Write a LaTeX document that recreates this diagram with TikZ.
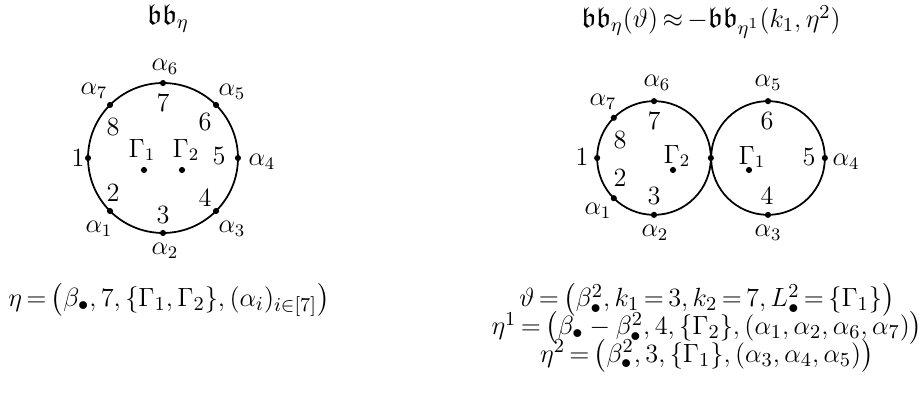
\documentclass[tikz,border=0pt]{standalone}
\usepackage{amsmath,amssymb}
\usetikzlibrary{positioning}
\newcommand\tightrel{\thickmuskip=3mu plus 1mu\relax}
\newcommand\tightlines{\lineskiplimit=-\maxdimen\relax}
\newcommand\formulasize{\fontsize{12.5}{12.6}\selectfont}
\newcommand\titlesize{\fontsize{13.2}{15}\selectfont}

\begin{document}
\begin{tikzpicture}[
  x=0.016cm, y=-0.016cm,
  ring/.style={
    draw,
    circle,
    line width=0.8pt,
    inner sep=0pt,
    outer sep=0pt,
  },
  vtx/.style={
    circle,
    fill=black,
    inner sep=0pt,
    minimum size=2.8pt,
  },
  lbl/.style={
    font=\large,
    inner sep=0pt,
  },
  titlelbl/.style={
    font=\titlesize\tightrel,
    inner sep=0pt,
  },
  formula/.style={
    font=\formulasize\tightrel\tightlines,
    align=center,
    inner sep=0pt,
  },
]

\useasboundingbox (0,0) rectangle (921,394);

% =============================================================================
% Left: one boundary circle
% =============================================================================
\node[titlelbl] (titleL) at (168,18) {$\mathfrak{bb}_\eta$};

\node[ring, minimum size=2.4cm] (ringL) at (163,158) {};

\node[vtx] (L1) at (ringL.180) {};
\node[vtx] (La1) at (ringL.225) {};
\node[vtx] (La2) at (ringL.270) {};
\node[vtx] (La3) at (ringL.315) {};
\node[vtx] (La4) at (ringL.0) {};
\node[vtx] (La5) at (ringL.45) {};
\node[vtx] (La6) at (ringL.90) {};
\node[vtx] (La7) at (ringL.135) {};

\node[lbl] at (78,158) {$1$};
\node[lbl] at (99,229) {$\alpha_1$};
\node[lbl] at (165,251) {$\alpha_2$};
\node[lbl] at (232,229) {$\alpha_3$};
\node[lbl] at (262,162) {$\alpha_4$};
\node[lbl] at (232,92) {$\alpha_5$};
\node[lbl] at (165,67) {$\alpha_6$};
\node[lbl] at (94,91) {$\alpha_7$};

% numbers inside
\node[lbl] at (113,193) {$2$};
\node[lbl] at (163,215) {$3$};
\node[lbl] at (205,198) {$4$};
\node[lbl] at (219,156) {$5$};
\node[lbl] at (205,122) {$6$};
\node[lbl] at (163,103) {$7$};
\node[lbl] at (113,127) {$8$};

% punctures
\node[vtx] (LG1) at (144,170) {};
\node[vtx] (LG2) at (182,170) {};
\node[lbl] at (142,150) {$\Gamma_1$};
\node[lbl] at (186,150) {$\Gamma_2$};

\node[formula] (etaL) at (169,300)
  {$\eta=\bigl(\beta_\bullet,7,\{\Gamma_1,\Gamma_2\},(\alpha_i)_{i\in[7]}\bigr)$};

% =============================================================================
% Right: the two circles touching at one point
% =============================================================================
\node[titlelbl] (titleR) at (711,22)
  {$\mathfrak{bb}_\eta(\vartheta)\approx-\mathfrak{bb}_{\eta^1}(k_1,\eta^2)$};

\node[ring, minimum size=1.82cm] (ringA) at (654,158) {};
\node[ring, minimum size=1.82cm] (ringB) at (768,158) {};

\node[vtx] (R1) at (ringA.180) {};
\node[vtx] (Ra1) at (ringA.225) {};
\node[vtx] (Ra2) at (ringA.270) {};
\node[vtx] (Ra6) at (ringA.90) {};
\node[vtx] (Ra7) at (ringA.135) {};
\node[vtx] (Rmid) at (ringA.0) {};
\node[vtx] (Ra3) at (ringB.270) {};
\node[vtx] (Ra4) at (ringB.0) {};
\node[vtx] (Ra5) at (ringB.90) {};

\node[lbl] at (582,157) {$1$};
\node[lbl] at (598,211) {$\alpha_1$};
\node[lbl] at (655,233) {$\alpha_2$};
\node[lbl] at (768,233) {$\alpha_3$};
\node[lbl] at (846,162) {$\alpha_4$};
\node[lbl] at (768,83) {$\alpha_5$};
\node[lbl] at (657,83) {$\alpha_6$};
\node[lbl] at (603,102) {$\alpha_7$};

% numbers inside
\node[lbl] at (620,178) {$2$};
\node[lbl] at (654,196) {$3$};
\node[lbl] at (767,196) {$4$};
\node[lbl] at (809,157) {$5$};
\node[lbl] at (767,121) {$6$};
\node[lbl] at (654,121) {$7$};
\node[lbl] at (620,140) {$8$};

% punctures
\node[vtx] (RG2) at (673,170) {};
\node[vtx] (RG1) at (749,170) {};
\node[lbl] at (677,156) {$\Gamma_2$};
\node[lbl] at (752,157) {$\Gamma_1$};

\node[formula] (splitdata) at (707,328)
  {$\vartheta=\bigl(\beta_\bullet^2,k_1=3,k_2=7,L_\bullet^2=\{\Gamma_1\}\bigr)$\\
   $\eta^1=\bigl(\beta_\bullet-\beta_\bullet^2,4,\{\Gamma_2\},(\alpha_1,\alpha_2,\alpha_6,\alpha_7)\bigr)$\\
   $\eta^2=\bigl(\beta_\bullet^2,3,\{\Gamma_1\},(\alpha_3,\alpha_4,\alpha_5)\bigr)$};

\end{tikzpicture}
\end{document}
